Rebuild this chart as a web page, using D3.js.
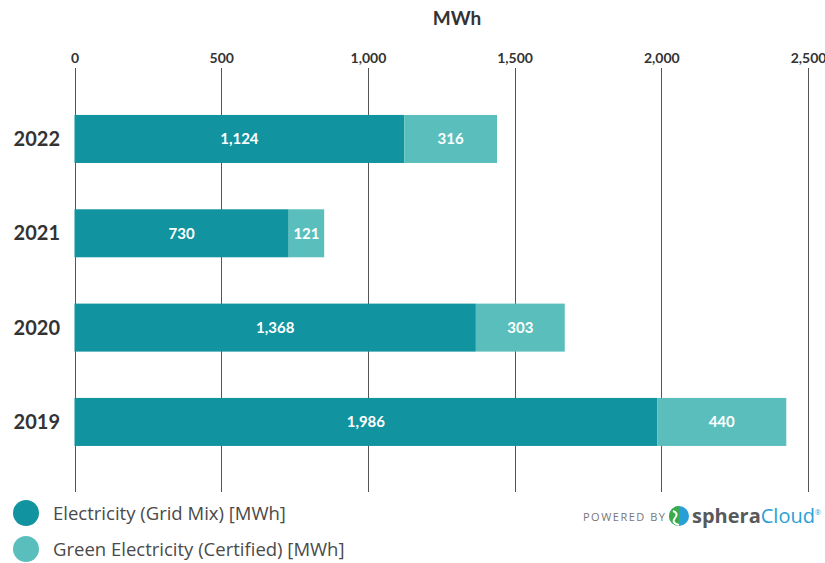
<!DOCTYPE html>
<html>
<head>
<meta charset="utf-8">
<script src="https://cdn.jsdelivr.net/npm/d3@7"></script>
<style>
  body { margin: 0; background: #fff; }
  svg { display: block; font-family: Lato, "Open Sans", sans-serif; }
</style>
</head>
<body>
<svg width="825" height="563"></svg>
<script>
const years = ["2022", "2021", "2020", "2019"];
const gridMix = [1124, 730, 1368, 1986];
const green = [316, 121, 303, 440];
const ticks = [0, 500, 1000, 1500, 2000, 2500];
const seriesNames = ["Electricity (Grid Mix) [MWh]", "Green Electricity (Certified) [MWh]"];
const colors = ["#1194a0", "#5abfbc"];

const svg = d3.select("svg");

const x = d3.scaleLinear().domain([0, 2500]).range([74.5, 808]);
const y = d3.scaleBand().domain(years).range([91.8, 469.1]).paddingInner(0.491).paddingOuter(0.2455);

// axis title
svg.append("text")
    .attr("x", 457).attr("y", 25)
    .attr("text-anchor", "middle")
    .style("font-size", "19px").style("font-weight", 700).attr("fill", "#333")
    .text("MWh");

// top axis: tick labels + gridlines
const axis = svg.append("g")
    .attr("transform", "translate(0,68)")
    .call(d3.axisTop(x).tickValues(ticks).tickSize(0).tickPadding(5).tickFormat(d3.format(",")));
axis.select(".domain").remove();
axis.selectAll("text")
    .style("font-size", "14px").style("font-weight", 700).attr("fill", "#333")
    .attr("font-family", "Lato, sans-serif");

svg.append("g").selectAll("line")
    .data(ticks)
    .join("line")
    .attr("x1", d => Math.round(x(d)) + 0.5).attr("x2", d => Math.round(x(d)) + 0.5)
    .attr("y1", 68).attr("y2", 492)
    .attr("stroke", "#555").attr("stroke-width", 1);

// stacked bars
const rows = years.map((yr, i) => ({ year: yr, vals: [gridMix[i], green[i]] }));
const segs = [];
rows.forEach(r => {
    let x0 = 0;
    r.vals.forEach((v, k) => {
        segs.push({ year: r.year, k: k, x0: x0, x1: x0 + v, v: v });
        x0 += v;
    });
});

svg.append("g").selectAll("rect")
    .data(segs)
    .join("rect")
    .attr("x", d => x(d.x0))
    .attr("width", d => x(d.x1) - x(d.x0))
    .attr("y", d => y(d.year))
    .attr("height", y.bandwidth())
    .attr("fill", d => colors[d.k]);

svg.append("g").selectAll("text")
    .data(segs)
    .join("text")
    .attr("x", d => (x(d.x0) + x(d.x1)) / 2)
    .attr("y", d => y(d.year) + y.bandwidth() / 2)
    .attr("dy", "0.36em")
    .attr("text-anchor", "middle")
    .attr("fill", "#fff")
    .style("font-size", "15px").style("font-weight", 700)
    .text(d => d3.format(",")(d.v));

// year labels
svg.append("g").selectAll("text")
    .data(years)
    .join("text")
    .attr("x", 60)
    .attr("y", d => y(d) + y.bandwidth() / 2)
    .attr("dy", "0.36em")
    .attr("text-anchor", "end")
    .attr("fill", "#333")
    .style("font-size", "20px").style("font-weight", 700)
    .text(d => d);

// legend
const legend = svg.append("g").selectAll("g")
    .data(seriesNames)
    .join("g")
    .attr("transform", (d, i) => `translate(26,${513 + i * 36})`);
legend.append("circle").attr("r", 13).attr("fill", (d, i) => colors[i]);
legend.append("text")
    .attr("x", 27).attr("dy", "0.36em")
    .attr("fill", "#4a4a4a")
    .attr("font-family", "'Open Sans', sans-serif")
    .style("font-size", "18.5px").style("font-weight", 400)
    .text(d => d);

// powered by logo
const logo = svg.append("g").attr("transform", "translate(583,521)");
logo.append("text")
    .attr("fill", "#777").style("font-size", "11px").style("letter-spacing", "1.5px")
    .attr("font-family", "'Open Sans', sans-serif")
    .text("POWERED BY");
logo.append("circle").attr("cx", 96).attr("cy", -5).attr("r", 10).attr("fill", "#2a9fd6");
logo.append("path")
    .attr("d", "M86,-5 A10,10 0 0,1 96,-15 L96,5 A10,10 0 0,1 86,-5 Z")
    .attr("fill", "#3bab4a");
logo.append("path")
    .attr("d", "M90,-10 Q96,-8 92,-3 Q88,2 96,4")
    .attr("fill", "none").attr("stroke", "#fff").attr("stroke-width", 2);
logo.append("text")
    .attr("x", 109).attr("y", 2)
    .style("font-size", "20px").style("font-weight", 700)
    .attr("font-family", "'Open Sans', sans-serif")
    .attr("fill", "#58595b")
    .text("sphera")
  .append("tspan")
    .attr("fill", "#2a9fd6").style("font-weight", 400)
    .text("Cloud")
  .append("tspan")
    .attr("dy", -8).style("font-size", "7px")
    .text("®");
</script>
</body>
</html>
